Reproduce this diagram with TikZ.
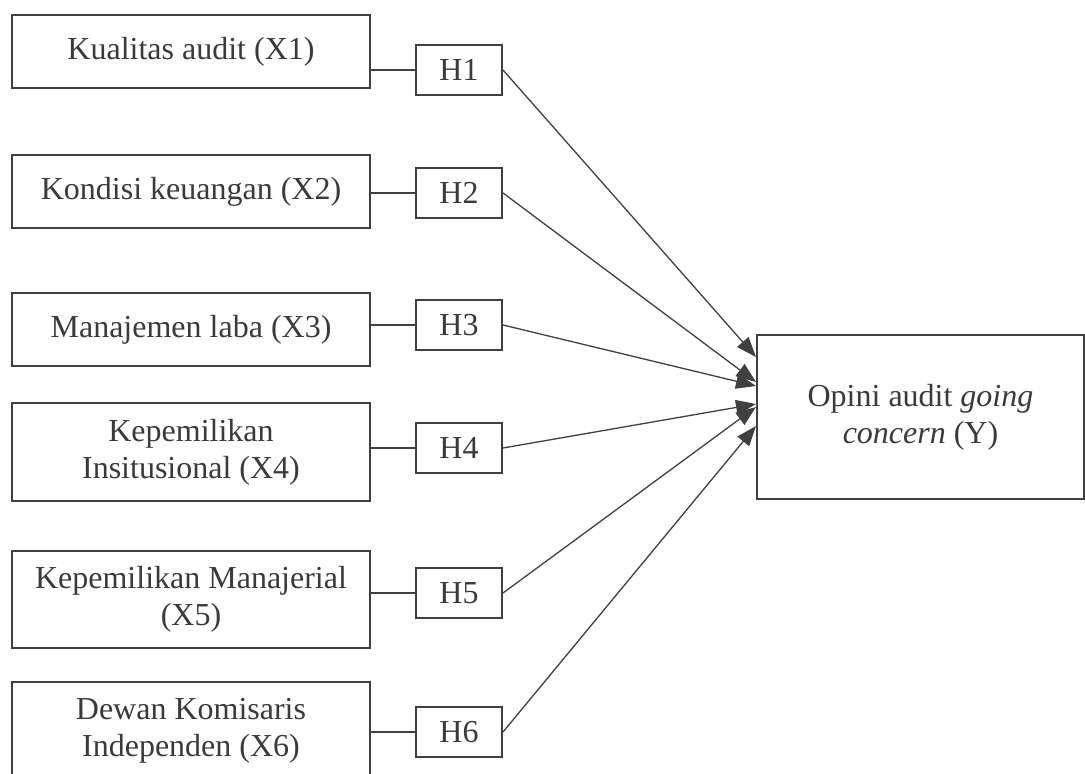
\documentclass[tikz,border=0pt]{standalone}
\usepackage{fontspec}
\setmainfont{Liberation Serif}
\usetikzlibrary{arrows.meta,calc}
\definecolor{ln}{RGB}{64,64,64}
\definecolor{tx}{RGB}{58,58,58}
\begin{document}
\begin{tikzpicture}[x=1pt,y=-1pt,
  varbox/.style={draw=ln,line width=2pt,minimum width=358pt,align=center,text=tx,
     font=\fontsize{32}{37}\selectfont,inner sep=0pt},
  hbox/.style={draw=ln,line width=2pt,minimum width=86pt,minimum height=50pt,text=tx,
     font=\fontsize{32}{37}\selectfont,inner sep=0pt},
  ybox/.style={draw=ln,line width=2pt,minimum width=327pt,minimum height=164pt,align=center,text=tx,
     font=\fontsize{32}{37}\selectfont,inner sep=0pt},
  link/.style={draw=ln,line width=1.3pt},
  arr/.style={draw=ln,line width=1.3pt,-{Triangle[length=20pt,width=15pt]}}]
\useasboundingbox (0,0) rectangle (1085,774);
\clip (0,0) rectangle (1085,774);
\node[varbox,minimum height=73pt] (x1) at (191,51.5) {Kualitas audit (X1)};
\node[varbox,minimum height=73pt] (x2) at (191,191.5) {Kondisi keuangan (X2)};
\node[varbox,minimum height=73pt] (x3) at (191,329.5) {Manajemen laba (X3)};
\node[varbox,minimum height=98pt] (x4) at (191,452) {Kepemilikan\\Insitusional (X4)};
\node[varbox,minimum height=97pt] (x5) at (191,599.5) {Kepemilikan Manajerial\\(X5)};
\node[varbox,minimum height=98pt] (x6) at (191,731) {Dewan Komisaris\\Independen (X6)};
\node[hbox] (h1) at (459,70) {H1};
\node[hbox] (h2) at (459,193) {H2};
\node[hbox] (h3) at (459,325) {H3};
\node[hbox] (h4) at (459,448) {H4};
\node[hbox] (h5) at (459,593) {H5};
\node[hbox] (h6) at (459,732) {H6};
\node[ybox] (y) at (920.5,417) {Opini audit \textit{going}\\\textit{concern} (Y)};
\foreach \i in {1,...,6}{\draw[link] (h\i.west) -- (h\i.west -| x\i.east);}
\coordinate (t1) at ($(y.west)+(0,-60)$);
\coordinate (t2) at ($(y.west)+(0,-35)$);
\coordinate (t3) at ($(y.west)+(0,-31)$);
\coordinate (t4) at ($(y.west)+(0,-13)$);
\coordinate (t5) at ($(y.west)+(0,-10)$);
\coordinate (t6) at ($(y.west)+(0,9)$);
\foreach \i in {1,...,6}{\draw[arr] (h\i.east) -- (t\i);}
\end{tikzpicture}
\end{document}
